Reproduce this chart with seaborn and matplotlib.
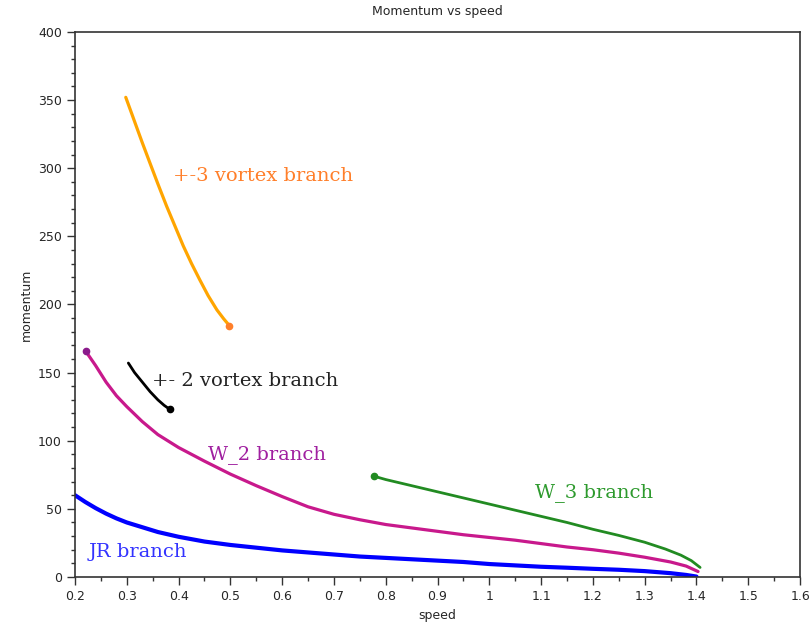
import numpy as np
import pandas as pd
import matplotlib
matplotlib.use("Agg")
import matplotlib.pyplot as plt
import seaborn as sns
from matplotlib.ticker import MultipleLocator

# branch data
jr_speed = [0.20, 0.22, 0.24, 0.26, 0.28, 0.30, 0.33, 0.36, 0.40, 0.45, 0.50, 0.55, 0.60, 0.65, 0.70,
            0.75, 0.80, 0.85, 0.90, 0.95, 1.00, 1.05, 1.10, 1.15, 1.20, 1.25, 1.30, 1.35, 1.38, 1.40]
jr_mom = [60, 55, 50.5, 46.5, 43, 40, 36.5, 33, 29.5, 26, 23.5, 21.5, 19.5, 18, 16.5,
          15, 14, 13, 12, 11, 9.5, 8.5, 7.5, 6.8, 6, 5.3, 4.3, 2.8, 1.5, 0.3]

w2_speed = [0.221, 0.24, 0.26, 0.28, 0.30, 0.33, 0.36, 0.40, 0.45, 0.50, 0.55, 0.60, 0.65, 0.70,
            0.75, 0.80, 0.85, 0.90, 0.95, 1.00, 1.05, 1.10, 1.15, 1.20, 1.25, 1.30, 1.35, 1.38, 1.403]
w2_mom = [165.5, 155, 143, 133, 125, 114, 104.5, 95, 85, 75.5, 67, 59, 51.5, 46,
          42, 38.5, 36, 33.5, 31, 29, 27, 24.5, 22, 20, 17.5, 14.5, 11, 8, 4]

w3_speed = [0.777, 0.80, 0.85, 0.90, 0.95, 1.00, 1.05, 1.10, 1.15, 1.20, 1.25, 1.30, 1.34, 1.37, 1.39, 1.407]
w3_mom = [74, 71.5, 67, 62.5, 58, 53.5, 49, 44.5, 40, 35, 30.5, 25.5, 20.5, 16, 12, 7]

v3_speed = [0.298, 0.31, 0.32, 0.33, 0.345, 0.36, 0.377, 0.393, 0.409, 0.425, 0.441, 0.457, 0.474, 0.487, 0.498]
v3_mom = [352, 339.5, 329, 318.6, 303.5, 288.5, 272, 257.5, 243, 230, 218, 206.5, 196, 189.5, 184.5]

v2_speed = [0.303, 0.315, 0.33, 0.345, 0.36, 0.372, 0.383]
v2_mom = [157, 150, 143, 136, 130, 126, 123]

branches = [
    ("JR", jr_speed, jr_mom, "#0000ff", 3.0, None),
    ("W_2", w2_speed, w2_mom, "#c8198c", 2.3, 0),
    ("W_3", w3_speed, w3_mom, "#228b22", 2.0, 0),
    ("+-3", v3_speed, v3_mom, "#ffa500", 2.3, -1),
    ("+-2", v2_speed, v2_mom, "#000000", 2.0, -1),
]
dot_colors = {"W_2": "#8b1a8b", "W_3": "#228b22", "+-3": "#ff7f2a", "+-2": "#000000"}

sns.set_style("ticks")
fig = plt.figure(figsize=(8.11, 6.36), dpi=100)
ax = fig.add_axes([0.0925, 0.0928, 0.894, 0.857])

for name, xs, ys, color, lw, dot in branches:
    df = pd.DataFrame({"speed": xs, "momentum": ys})
    sns.lineplot(data=df, x="speed", y="momentum", sort=False, color=color,
                 linewidth=lw, ax=ax, estimator=None)
    if dot is not None:
        ax.plot(xs[dot], ys[dot], "o", color=dot_colors[name], markersize=4.5)

ax.set_xlim(0.2, 1.6)
ax.set_ylim(0, 400)
ax.xaxis.set_major_locator(MultipleLocator(0.1))
ax.xaxis.set_minor_locator(MultipleLocator(0.05))
ax.yaxis.set_major_locator(MultipleLocator(50))
ax.yaxis.set_minor_locator(MultipleLocator(10))
ax.set_xticklabels([f"{v:g}" for v in np.round(ax.get_xticks(), 2)])
ax.tick_params(which="major", length=6, width=1, labelsize=9, color="#333333")
ax.tick_params(which="minor", length=3, width=1, color="#333333")
for s in ax.spines.values():
    s.set_color("#333333")
    s.set_linewidth(1.2)

ax.set_xlabel("speed", fontsize=9)
ax.set_ylabel("momentum", fontsize=9)
ax.set_title("Momentum vs speed", fontsize=9, pad=12)

serif = "DejaVu Serif"
fs = 14
ax.text(0.389, 294, "+-3 vortex branch", color="#ff7f2a", fontsize=fs, family=serif, va="center")
ax.text(0.348, 143.5, "+- 2 vortex branch", color="#222222", fontsize=fs, family=serif, va="center")
ax.text(0.457, 90, "W_2 branch", color="#a020a0", fontsize=fs, family=serif, va="center")
ax.text(0.226, 18.5, "JR branch", color="#3333ff", fontsize=fs, family=serif, va="center")
ax.text(1.088, 62, "W_3 branch", color="#2e9a2e", fontsize=fs, family=serif, va="center")

fig.savefig("out.png", dpi=100)
